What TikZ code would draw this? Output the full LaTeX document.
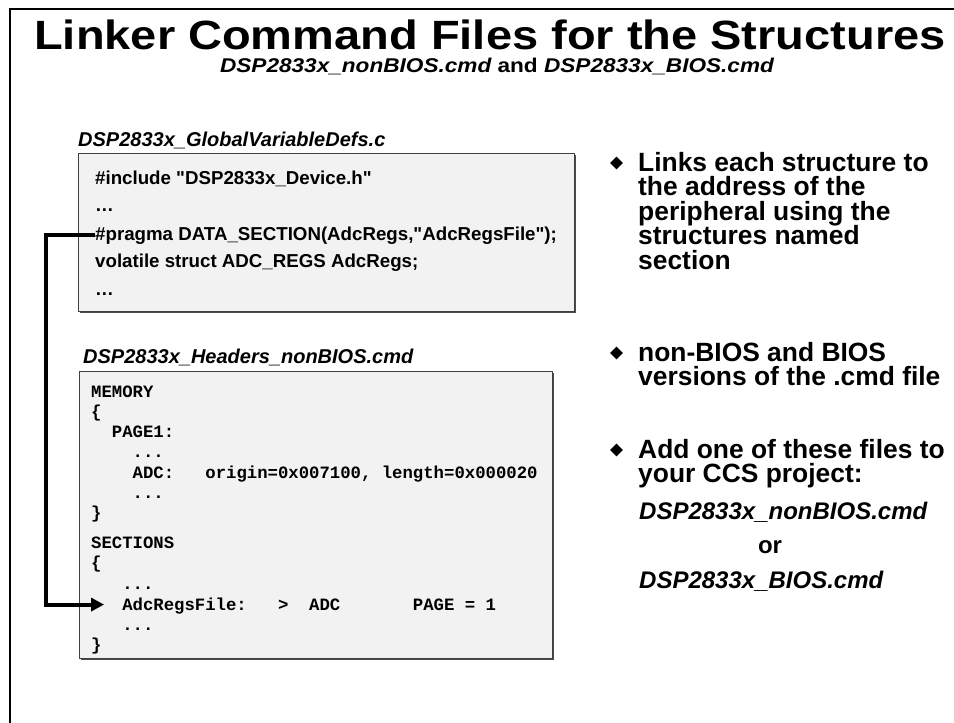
\documentclass[tikz,border=0pt]{standalone}
\usepackage{fontspec}
\usepackage{graphicx}
\setmainfont{Liberation Sans}
\setmonofont{Liberation Mono}
\usetikzlibrary{shapes.geometric,arrows.meta,shadows}
\newcommand{\dq}{{\XeTeXglyph\XeTeXcharglyph"0022\relax}}
\begin{document}
\begin{tikzpicture}[x=1pt,y=-1pt,
  codebox/.style={draw=black!75, fill=black!5, line width=0.8pt, anchor=north west, inner sep=0pt,
     drop shadow={shadow xshift=1.5pt, shadow yshift=-1.5pt, fill=black!70, opacity=1}},
  ctext/.style={anchor=base west, inner sep=0pt, font=\fontsize{18.7}{18.7}\selectfont\bfseries},
  mtext/.style={anchor=base west, inner sep=0pt, font=\fontsize{17.3}{17.3}\selectfont\ttfamily\bfseries},
  btext/.style={anchor=base west, inner sep=0pt, font=\fontsize{26.4}{26.4}\selectfont\bfseries},
  itext/.style={anchor=base west, inner sep=0pt, font=\fontsize{24}{24}\selectfont\bfseries\itshape},
  filelabel/.style={anchor=base west, inner sep=0pt, font=\fontsize{20}{20}\selectfont\bfseries\itshape},
  bulletmark/.style={diamond, fill=black, minimum size=13pt, inner sep=0pt},
  conn/.style={line width=4pt, -{Triangle[length=13pt,width=13pt]}},
]
\useasboundingbox (0,0) rectangle (954,723);
\fill[white] (0,0) rectangle (954,723);
% frame
\draw[line width=2pt] (10,723) -- (10,9) -- (954,9);

% title
\node[anchor=base, inner sep=0pt] (title) at (490,49)
  {\scalebox{1}[0.87]{\fontsize{47}{47}\selectfont\bfseries Linker Command Files for the Structures}};
\node[anchor=base, inner sep=0pt] (subtitle) at (497,72)
  {\scalebox{1}[0.88]{\fontsize{22.6}{22.6}\selectfont\bfseries\itshape DSP2833x\_nonBIOS.cmd\upshape\ and \itshape DSP2833x\_BIOS.cmd}};

% box 1
\node[filelabel] (lab1) at (78,146) {DSP2833x\_GlobalVariableDefs.c};
\node[codebox, minimum width=496pt, minimum height=158pt] (box1) at (78,153) {};
\node[ctext] (c1) at (95,184) {\#include \dq DSP2833x\_Device.h\dq};
\node[ctext] (c2) at (95,211) {…};
\node[ctext] (pragma) at (95,240) {\#pragma DATA\_SECTION(AdcRegs,\dq AdcRegsFile\dq);};
\node[ctext] (c4) at (95,267) {volatile struct ADC\_REGS AdcRegs;};
\node[ctext] (c5) at (95,295) {…};

% box 2
\node[filelabel] (lab2) at (83,363) {DSP2833x\_Headers\_nonBIOS.cmd};
\node[codebox, minimum width=473pt, minimum height=287pt] (box2) at (79,371) {};
\node[mtext] (m1) at (91,397) {MEMORY};
\node[mtext] (m2) at (91,417.5) {\{};
\node[mtext] (m3) at (91,437.5) {~~PAGE1:};
\node[mtext] (m4) at (91,457.5) {~~~~...};
\node[mtext] (m5) at (91,478) {~~~~ADC:~~~origin=0x007100,~length=0x000020};
\node[mtext] (m6) at (91,498) {~~~~...};
\node[mtext] (m7) at (91,518) {\}};
\node[mtext] (m8) at (91,548) {SECTIONS};
\node[mtext] (m9) at (91,568.5) {\{};
\node[mtext] (m10) at (91,589) {~~~...};
\node[mtext] (adcfile) at (122.1,610) {AdcRegsFile:~~~>~~ADC~~~~~~~PAGE~=~1};
\node[mtext] (m12) at (91,630) {~~~...};
\node[mtext] (m13) at (91,650) {\}};

% connector
\draw[conn] (pragma.west) -- ++(-49,0) |- ([shift={(-18,-1)}]adcfile.west);

% bullets
\node[bulletmark] (b1) at (616.5,163) {};
\node[btext] (b1l1) at (638,171) {Links each structure to};
\node[btext] (b1l2) at (638,195.5) {the address of the};
\node[btext] (b1l3) at (638,220) {peripheral using the};
\node[btext] (b1l4) at (638,244.5) {structures named};
\node[btext] (b1l5) at (638,269) {section};

\node[bulletmark] (b2) at (616.5,353) {};
\node[btext] (b2l1) at (638,361) {non-BIOS and BIOS};
\node[btext] (b2l2) at (638,385.5) {versions of the .cmd file};

\node[bulletmark] (b3) at (616.5,450) {};
\node[btext] (b3l1) at (638,458) {Add one of these files to};
\node[btext] (b3l2) at (638,482.5) {your CCS project:};
\node[itext] (f1) at (639,519) {DSP2833x\_nonBIOS.cmd};
\node[anchor=base, inner sep=0pt, font=\fontsize{24}{24}\selectfont\bfseries] (orword) at (770,553) {or};
\node[itext] (f2) at (639,588) {DSP2833x\_BIOS.cmd};
\end{tikzpicture}
\end{document}
